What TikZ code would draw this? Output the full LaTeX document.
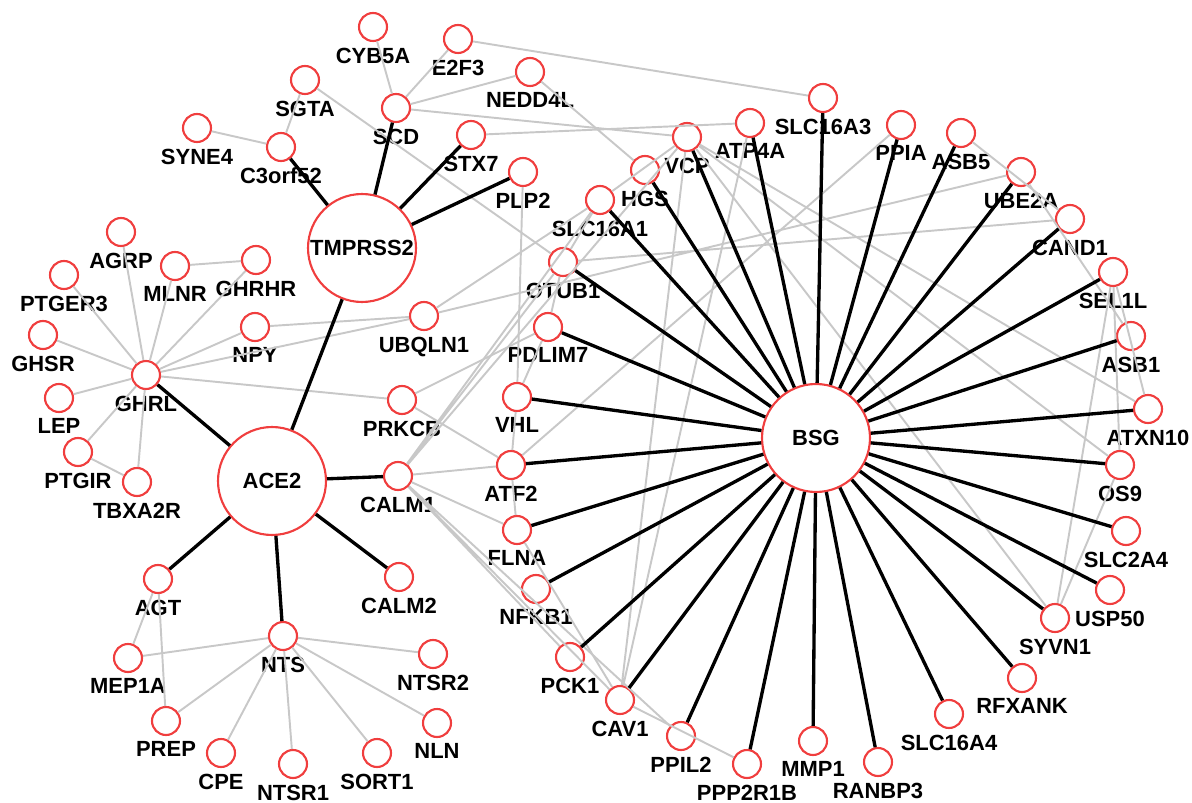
\documentclass[tikz,border=0pt]{standalone}
\usepackage{fontspec}
\setmainfont{Liberation Sans}
\definecolor{nodered}{RGB}{240,62,62}
\definecolor{edgegrey}{RGB}{200,200,200}
\newcommand{\genefont}{\fontsize{12.5}{14}\selectfont\bfseries}

\begin{document}
\begin{tikzpicture}[x=0.02cm,y=-0.02cm,
    gn/.style={circle,draw=nodered,line width=1.2pt,fill=white,minimum size=0.56cm,inner sep=0pt},
    hub/.style={gn,minimum size=2.16cm,font=\genefont},
    every label/.style={font=\genefont,inner sep=0pt},
    label distance=3pt,
    ppi/.style={line width=1.9pt,black},
    lnk/.style={line width=1.1pt,edgegrey}]
\useasboundingbox (0,0) rectangle (1192,803);

% hubs
\node[hub] (TMPRSS2) at (362,248) {TMPRSS2};
\node[hub] (ACE2) at (272,481) {ACE2};
\node[hub] (BSG) at (816,438) {BSG};

% TMPRSS2 side
\node[gn,label=below:CYB5A] (CYB5A) at (373,27) {};
\node[gn,label=below:E2F3] (E2F3) at (458,39) {};
\node[gn,label=below:SGTA] (SGTA) at (305,80) {};
\node[gn,label=below:NEDD4L] (NEDD4L) at (530,72) {};
\node[gn,label=below:SYNE4] (SYNE4) at (197,128) {};
\node[gn,label=below:C3orf52] (C3orf52) at (281,147) {};
\node[gn,label=below:SCD] (SCD) at (396,108) {};
\node[gn,label=below:STX7] (STX7) at (471,135) {};
\node[gn,label=below:PLP2] (PLP2) at (523,172) {};

% GHRL group
\node[gn,label=below:AGRP] (AGRP) at (121,232) {};
\node[gn,label=below:MLNR] (MLNR) at (175,266) {};
\node[gn,label=below:GHRHR] (GHRHR) at (256,260) {};
\node[gn,label=below:PTGER3] (PTGER3) at (64,275) {};
\node[gn,label=below:GHSR] (GHSR) at (43,335) {};
\node[gn,label=below:NPY] (NPY) at (255,327) {};
\node[gn,label=below:GHRL] (GHRL) at (146,375) {};
\node[gn,label=below:LEP] (LEP) at (59,398) {};
\node[gn,label=below:PTGIR] (PTGIR) at (78,452) {};
\node[gn,label=below:TBXA2R] (TBXA2R) at (137,482) {};

% middle
\node[gn,label=below:UBQLN1] (UBQLN1) at (424,316) {};
\node[gn,label=below:PRKCB] (PRKCB) at (402,400) {};
\node[gn,label=below:CALM1] (CALM1) at (398,476) {};
\node[gn,label=below:CALM2] (CALM2) at (399,577) {};

% NTS group
\node[gn,label=below:AGT] (AGT) at (158,579) {};
\node[gn,label=below:NTS] (NTS) at (283,636) {};
\node[gn,label=below:MEP1A] (MEP1A) at (128,658) {};
\node[gn,label=below:NTSR2] (NTSR2) at (433,654) {};
\node[gn,label=below:PREP] (PREP) at (166,721) {};
\node[gn,label=below:NLN] (NLN) at (437,723) {};
\node[gn,label=below:CPE] (CPE) at (221,753) {};
\node[gn,label=below:NTSR1] (NTSR1) at (293,764) {};
\node[gn,label=below:SORT1] (SORT1) at (377,753) {};

% BSG ring
\node[gn,label=below:SLC16A3] (SLC16A3) at (823,98) {};
\node[gn,label=below:ATP4A] (ATP4A) at (750,123) {};
\node[gn,label=below:VCP] (VCP) at (687,137) {};
\node[gn,label=below:PPIA] (PPIA) at (901,125) {};
\node[gn,label=below:ASB5] (ASB5) at (961,133) {};
\node[gn,label=below:HGS] (HGS) at (645,170) {};
\node[gn,label=below:SLC16A1] (SLC16A1) at (600,200) {};
\node[gn,label=below:UBE2A] (UBE2A) at (1021,172) {};
\node[gn,label=below:CAND1] (CAND1) at (1070,219) {};
\node[gn,label=below:OTUB1] (OTUB1) at (563,262) {};
\node[gn,label=below:SEL1L] (SEL1L) at (1113,272) {};
\node[gn,label=below:ASB1] (ASB1) at (1131,336) {};
\node[gn,label=below:PDLIM7] (PDLIM7) at (548,327) {};
\node[gn,label=below:VHL] (VHL) at (517,397) {};
\node[gn,label=below:ATXN10] (ATXN10) at (1148,409) {};
\node[gn,label=below:ATF2] (ATF2) at (511,465) {};
\node[gn,label=below:OS9] (OS9) at (1120,465) {};
\node[gn,label=below:FLNA] (FLNA) at (517,530) {};
\node[gn,label=below:SLC2A4] (SLC2A4) at (1126,531) {};
\node[gn,label=below:NFKB1] (NFKB1) at (536,589) {};
\node[gn,label=below:USP50] (USP50) at (1110,590) {};
\node[gn,label=below:SYVN1] (SYVN1) at (1055,618) {};
\node[gn,label=below:PCK1] (PCK1) at (570,657) {};
\node[gn,label=below:CAV1] (CAV1) at (620,700) {};
\node[gn,label=below:RFXANK] (RFXANK) at (1022,678) {};
\node[gn,label=below:SLC16A4] (SLC16A4) at (949,714) {};
\node[gn,label=below:PPIL2] (PPIL2) at (681,736) {};
\node[gn,label=below:MMP1] (MMP1) at (813,741) {};
\node[gn,label=below:PPP2R1B] (PPP2R1B) at (747,764) {};
\node[gn,label=below:RANBP3] (RANBP3) at (878,762) {};

% grey links
\draw[lnk] (GHRL) -- (AGRP) (GHRL) -- (PTGER3) (GHRL) -- (GHSR) (GHRL) -- (LEP)
  (GHRL) -- (PTGIR) (GHRL) -- (TBXA2R) (GHRL) -- (MLNR) (GHRL) -- (GHRHR)
  (GHRL) -- (NPY) (GHRL) -- (UBQLN1) (GHRL) -- (PRKCB);
\draw[lnk] (PTGIR) -- (TBXA2R) (MLNR) -- (GHRHR) (NPY) -- (UBQLN1);
\draw[lnk] (NTS) -- (MEP1A) (NTS) -- (PREP) (NTS) -- (CPE) (NTS) -- (NTSR1)
  (NTS) -- (SORT1) (NTS) -- (NLN) (NTS) -- (NTSR2);
\draw[lnk] (AGT) -- (MEP1A) (AGT) -- (PREP);
\draw[lnk] (C3orf52) -- (SYNE4) (C3orf52) -- (SGTA) (SGTA) -- (OTUB1);
\draw[lnk] (SCD) -- (CYB5A) (SCD) -- (E2F3) (SCD) -- (NEDD4L) (SCD) -- (VCP);
\draw[lnk] (E2F3) -- (SLC16A3) (NEDD4L) -- (HGS) (STX7) -- (ATP4A);
\draw[lnk] (PLP2) -- (VHL) (VHL) -- (ATF2) (ATF2) -- (FLNA);
\draw[lnk] (SLC16A1) -- (OTUB1) (OTUB1) -- (PDLIM7) (PDLIM7) -- (VHL);
\draw[lnk] (UBQLN1) -- (SLC16A1) (UBQLN1) -- (UBE2A) (OTUB1) -- (CAND1);
\draw[lnk] (PRKCB) -- (PDLIM7) (PRKCB) -- (ATF2);
\draw[lnk] (CALM1) -- (ATF2) (CALM1) -- (FLNA) (CALM1) -- (PCK1) (CALM1) -- (CAV1)
  (CALM1) -- (PPIL2) (CALM1) -- (VCP) (CALM1) -- (SLC16A1) (CALM1) -- (OTUB1);
\draw[lnk] (FLNA) -- (CAV1) (CAV1) -- (PPP2R1B);
\draw[lnk] (VCP) -- (SLC16A1) (VCP) -- (CAV1) (VCP) -- (ATXN10) (VCP) -- (OS9)
  (VCP) -- (SYVN1) (ATP4A) -- (CAV1);
\draw[lnk] (PPIA) -- (ATF2) (ASB5) -- (CAND1) (UBE2A) -- (ASB1);
\draw[lnk] (SEL1L) -- (ATXN10) (SEL1L) -- (OS9) (SEL1L) -- (SYVN1) (OS9) -- (SYVN1);

% black links
\draw[ppi] (TMPRSS2) -- (C3orf52) (TMPRSS2) -- (SCD) (TMPRSS2) -- (STX7)
  (TMPRSS2) -- (PLP2) (TMPRSS2) -- (ACE2);
\draw[ppi] (ACE2) -- (GHRL) (ACE2) -- (CALM1) (ACE2) -- (AGT) (ACE2) -- (NTS)
  (ACE2) -- (CALM2);
\draw[ppi] (BSG) -- (SLC16A3) (BSG) -- (ATP4A) (BSG) -- (VCP) (BSG) -- (PPIA)
  (BSG) -- (ASB5) (BSG) -- (HGS) (BSG) -- (SLC16A1) (BSG) -- (UBE2A)
  (BSG) -- (CAND1) (BSG) -- (OTUB1) (BSG) -- (SEL1L) (BSG) -- (ASB1)
  (BSG) -- (PDLIM7) (BSG) -- (VHL) (BSG) -- (ATXN10) (BSG) -- (ATF2)
  (BSG) -- (OS9) (BSG) -- (FLNA) (BSG) -- (SLC2A4) (BSG) -- (NFKB1)
  (BSG) -- (USP50) (BSG) -- (SYVN1) (BSG) -- (PCK1) (BSG) -- (CAV1)
  (BSG) -- (RFXANK) (BSG) -- (PPIL2) (BSG) -- (SLC16A4) (BSG) -- (PPP2R1B)
  (BSG) -- (MMP1) (BSG) -- (RANBP3);
\end{tikzpicture}
\end{document}
